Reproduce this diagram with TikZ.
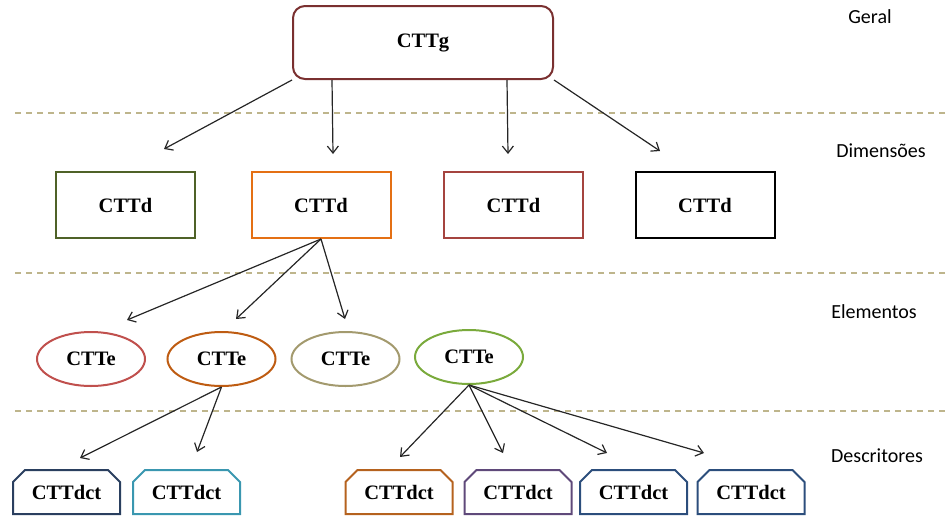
\documentclass[tikz,border=0pt]{standalone}
\usepackage{fontspec}
\setmainfont{Liberation Serif}
\newfontfamily\labelfont{Carlito}
\usetikzlibrary{shapes.geometric,shapes.misc,arrows.meta}
\definecolor{gcol}{RGB}{122,48,48}
\definecolor{dgreen}{RGB}{79,98,40}
\definecolor{dorange}{RGB}{228,112,20}
\definecolor{dred}{RGB}{165,68,63}
\definecolor{ered}{RGB}{192,80,77}
\definecolor{ebrown}{RGB}{190,92,18}
\definecolor{ekhaki}{RGB}{163,154,110}
\definecolor{egreen}{RGB}{122,170,60}
\definecolor{cnavy}{RGB}{42,63,95}
\definecolor{cteal}{RGB}{58,151,176}
\definecolor{corange}{RGB}{181,98,30}
\definecolor{cpurple}{RGB}{95,73,122}
\definecolor{cblue}{RGB}{44,78,124}
\definecolor{sepcol}{RGB}{190,181,140}
\tikzset{
  >={Straight Barb[length=7pt,width=11pt]},
  every node/.style={font=\fontsize{20.5}{24}\selectfont\bfseries},
  gen/.style={draw=gcol,line width=2pt,rounded corners=12pt,minimum width=260pt,minimum height=73pt},
  dim/.style={draw=#1,line width=2pt,minimum width=139pt,minimum height=66pt},
  elem/.style={ellipse,draw=#1,line width=2pt,minimum width=108pt,minimum height=54pt,inner sep=0pt},
  desc/.style={chamfered rectangle,chamfered rectangle corners={north west,north east},
    chamfered rectangle xsep=6pt,chamfered rectangle ysep=6pt,
    draw=#1,line width=2pt,minimum width=107pt,minimum height=44pt,inner sep=0pt},
  lvl/.style={font=\labelfont\fontsize{20}{24}\selectfont},
  sep/.style={draw=sepcol,line width=1.5pt,dash pattern=on 6pt off 5pt},
  arr/.style={->,draw=black!85,line width=1.2pt}
}
\begin{document}
\begin{tikzpicture}[x=1pt,y=-1pt]
\useasboundingbox (0,0) rectangle (946,520);
% level separators and names
\draw[sep] (15,113) -- (946,113);
\draw[sep] (15,273) -- (946,273);
\draw[sep] (15,411) -- (946,411);
\node[lvl] (geral) at (870,17) {Geral};
\node[lvl] (dimensoes) at (881,151) {Dimensões};
\node[lvl] (elementos) at (874,312) {Elementos};
\node[lvl] (descritores) at (877,456) {Descritores};
% general
\node[gen] (g) at (423,42.5) {CTTg};
% dimensions
\node[dim=dgreen] (d1) at (125.5,205) {CTTd};
\node[dim=dorange] (d2) at (321,205) {CTTd};
\node[dim=dred] (d3) at (513.5,205) {CTTd};
\node[dim=black] (d4) at (705,205) {CTTd};
% elements
\node[elem=ered] (e1) at (91,359) {CTTe};
\node[elem=ebrown] (e2) at (221.5,359) {CTTe};
\node[elem=ekhaki] (e3) at (345.5,359) {CTTe};
\node[elem=egreen] (e4) at (469,357) {CTTe};
% descriptors
\node[desc=cnavy] (c1) at (66.5,492) {CTTdct};
\node[desc=cteal] (c2) at (186.5,492) {CTTdct};
\node[desc=corange] (c3) at (399,492) {CTTdct};
\node[desc=cpurple] (c4) at (518,492) {CTTdct};
\node[desc=cblue] (c5) at (633.5,492) {CTTdct};
\node[desc=cblue] (c6) at (751,492) {CTTdct};
% arrow tips
\coordinate (t1) at (164,149);
\coordinate (t2) at (333,154);
\coordinate (t3) at (508,154);
\coordinate (t4) at (660,151);
\coordinate (u1) at (127,320);
\coordinate (u2) at (236,319);
\coordinate (u3) at (345,319);
\coordinate (v1) at (80,458);
\coordinate (v2) at (197,452);
\coordinate (w1) at (400,457);
\coordinate (w2) at (503,453);
\coordinate (w3) at (607,453);
\coordinate (w4) at (704,453);
\draw[arr] (g.south west) -- (t1);
\draw[arr] ([xshift=40pt]g.south west) -- (t2);
\draw[arr] ([xshift=-47pt]g.south east) -- (t3);
\draw[arr] (g.south east) -- (t4);
\draw[arr] (d2.south) -- (u1);
\draw[arr] (d2.south) -- (u2);
\draw[arr] (d2.south) -- (u3);
\draw[arr] (e2.south) -- (v1);
\draw[arr] (e2.south) -- (v2);
\draw[arr] (e4.south) -- (w1);
\draw[arr] (e4.south) -- (w2);
\draw[arr] (e4.south) -- (w3);
\draw[arr] (e4.south) -- (w4);
\end{tikzpicture}
\end{document}
